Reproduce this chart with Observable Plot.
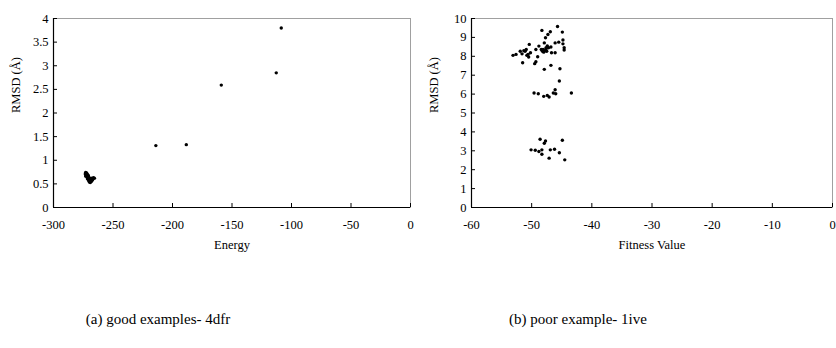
<!DOCTYPE html>
<html>
<head>
<meta charset="utf-8">
<script src="https://cdn.jsdelivr.net/npm/d3@7"></script>
<script src="https://cdn.jsdelivr.net/npm/@observablehq/plot@0.6"></script>
<style>
  html, body { margin: 0; padding: 0; background: #fff; }
  #wrap { position: relative; width: 836px; height: 348px; background: #fff; overflow: hidden; }
  .panel { position: absolute; top: 0; }
  .cap { position: absolute; font-family: "Liberation Serif", serif; font-size: 15px; color: #000; white-space: nowrap; transform: translateX(-50%); }
</style>
</head>
<body>
<div id="wrap">
  <div id="pa" class="panel" style="left:0px"></div>
  <div id="pb" class="panel" style="left:418px"></div>
  <div class="cap" style="left:158px; top:311px">(a) good examples- 4dfr</div>
  <div class="cap" style="left:578px; top:311px">(b) poor example- 1ive</div>
</div>
<script>
// ---- Panel (a): 4dfr ----
const energyA = [
  -273.0, -272.6, -272.8, -272.2, -272.0, -271.8, -271.6, -272.4, -271.4, -271.2,
  -271.0, -270.8, -270.6, -270.4, -270.2, -270.0, -269.8, -269.6, -269.4, -269.2,
  -269.0, -268.8, -268.6, -268.4, -268.0, -267.6, -266.5, -265.6, -271.9, -270.9,
  -273.3, -272.9, -271.5, -270.5, -269.9, -269.1, -268.2, -267.2,
  -214.0, -188.4, -159.0, -112.8, -108.6
];
const rmsdA = [
  0.74, 0.72, 0.70, 0.73, 0.69, 0.71, 0.67, 0.68, 0.65, 0.69,
  0.63, 0.66, 0.61, 0.64, 0.59, 0.62, 0.57, 0.60, 0.56, 0.58,
  0.55, 0.60, 0.57, 0.62, 0.59, 0.61, 0.63, 0.62, 0.66, 0.68,
  0.71, 0.66, 0.61, 0.57, 0.54, 0.53, 0.55, 0.58,
  1.31, 1.33, 2.59, 2.85, 3.80
];
const xTicksA = [-300, -250, -200, -150, -100, -50, 0];
const yTicksA = [0, 0.5, 1, 1.5, 2, 2.5, 3, 3.5, 4];

// ---- Panel (b): 1ive ----
const fitnessB = [
  -53.1, -52.6, -51.9, -51.6, -51.5, -51.1, -50.9, -50.6, -50.4, -50.5,
  -50.2, -49.5, -49.3, -49.0, -49.3, -48.8, -48.4, -48.3, -48.2, -47.9,
  -47.9, -47.7, -47.6, -47.5, -47.3, -47.2, -46.9, -46.8, -46.8, -46.7,
  -46.1, -46.1, -45.7, -45.5, -45.3, -44.9, -44.8, -44.8, -44.6, -44.6,
  -48.1, -47.8, -47.6, -47.4, -48.0, -51.3, -50.8,
  -45.4, -49.6, -48.9, -48.0, -47.4, -47.1, -46.4, -46.1, -46.0, -43.4,
  -50.1, -49.4, -48.8, -48.6, -48.3, -48.3, -47.9, -47.7, -47.1, -46.9,
  -46.2, -45.4, -44.9, -44.5
];
const rmsdB = [
  8.05, 8.10, 8.27, 8.13, 7.66, 8.27, 8.36, 8.10, 8.63, 7.96,
  8.19, 7.61, 7.71, 7.98, 8.36, 8.54, 8.36, 9.37, 8.27, 8.71,
  7.31, 8.98, 8.45, 8.27, 9.15, 8.45, 9.30, 8.49, 7.52, 8.19,
  8.19, 8.71, 9.58, 8.75, 7.34, 9.28, 8.86, 8.66, 8.45, 8.33,
  8.36, 8.30, 8.40, 8.55, 8.22, 8.30, 8.05,
  6.69, 6.06, 6.02, 5.88, 5.93, 5.85, 6.06, 6.23, 6.02, 6.06,
  3.05, 3.03, 2.96, 3.61, 3.05, 2.82, 3.40, 3.52, 2.61, 3.05,
  3.08, 2.90, 3.56, 2.52
];
const xTicksB = [-60, -50, -40, -30, -20, -10, 0];
const yTicksB = [0, 1, 2, 3, 4, 5, 6, 7, 8, 9, 10];

const fmt = d => String(d);

function panel(xs, ys, xTicks, yTicks, xLabel, marginRight) {
  const data = xs.map((x, i) => ({x, y: ys[i]}));
  const xd = [xTicks[0], xTicks[xTicks.length - 1]];
  const yd = [yTicks[0], yTicks[yTicks.length - 1]];
  return Plot.plot({
    width: 418, height: 260,
    marginLeft: 53, marginRight, marginTop: 18, marginBottom: 53,
    style: {fontFamily: "'Liberation Serif', serif", fontSize: "12.5px", color: "#000", background: "#fff", overflow: "visible"},
    x: {domain: xd, ticks: xTicks, tickFormat: fmt, label: null, tickSize: 0, tickPadding: 13},
    y: {domain: yd, ticks: yTicks, tickFormat: fmt, label: null, tickSize: 0, tickPadding: 5},
    marks: [
      Plot.frame({stroke: "#a0a0a0"}),
      Plot.ruleY([yd[0]], {stroke: "#000", strokeWidth: 1.2}),
      Plot.ruleX([xd[0]], {stroke: "#000", strokeWidth: 1.2}),
      // inward tick marks
      Plot.ruleX(xTicks, {x: d => d, y1: yd[0], y2: yd[0], insetTop: -4, stroke: "#000"}),
      Plot.ruleY(yTicks, {y: d => d, x1: xd[0], x2: xd[0], insetRight: -4, stroke: "#000"}),
      Plot.dot(data, {x: "x", y: "y", r: 1.7, fill: "#000", stroke: "none"}),
      // axis titles
      Plot.text([xLabel], {text: d => d, frameAnchor: "bottom", dy: 41, fontSize: 12.5, fill: "#000"}),
      Plot.text(["RMSD (Å)"], {text: d => d, frameAnchor: "left", dx: -38, rotate: -90, fontSize: 12.5, fill: "#000"})
    ]
  });
}

document.getElementById("pa").append(panel(energyA, rmsdA, xTicksA, yTicksA, "Energy", 8));
document.getElementById("pb").append(panel(fitnessB, rmsdB, xTicksB, yTicksB, "Fitness Value", 4));
</script>
</body>
</html>
